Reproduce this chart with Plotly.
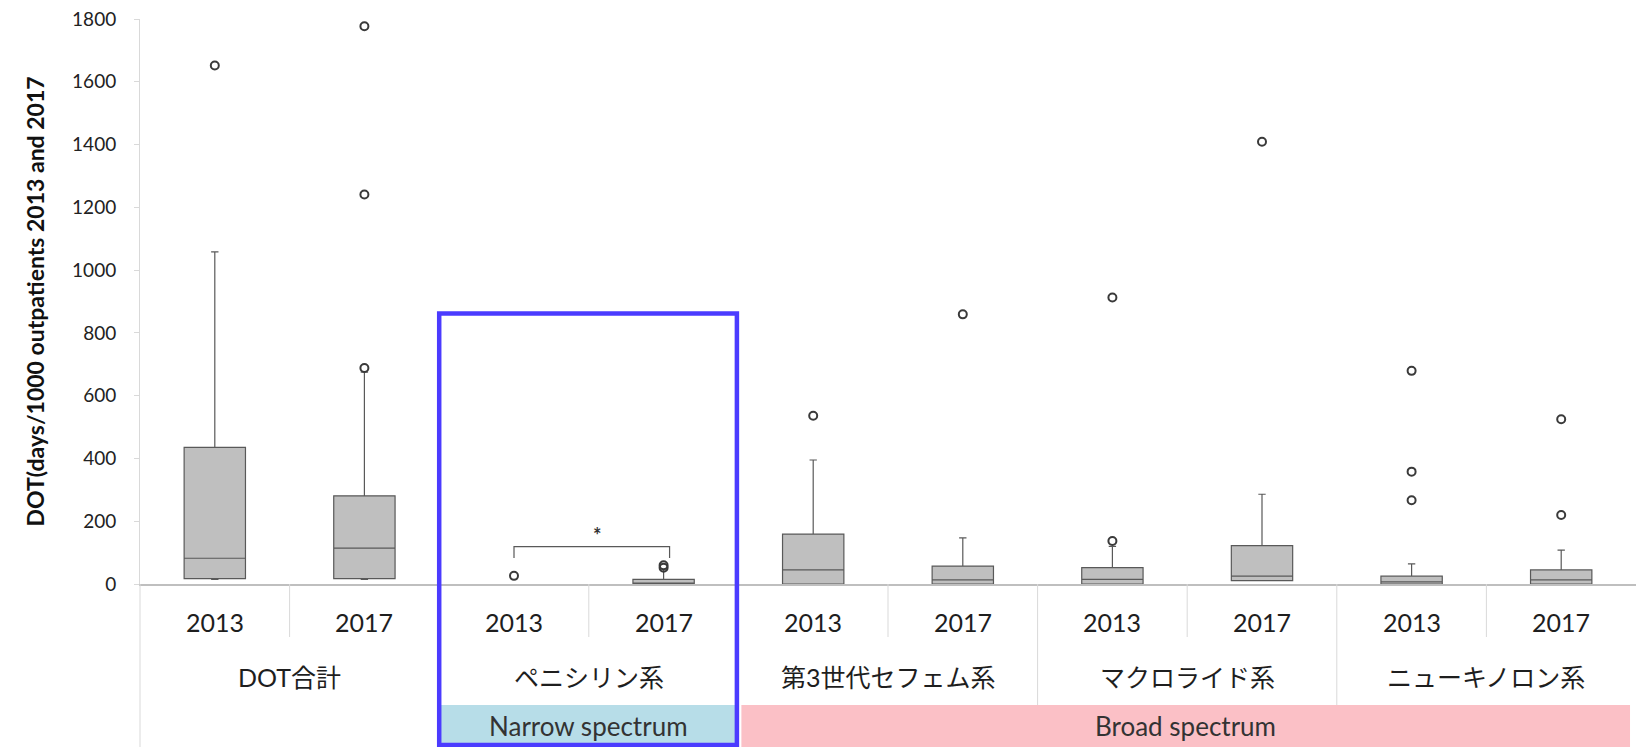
import plotly.graph_objects as go

# ---- data ----
groups = ["DOT合計", "ペニシリン系", "第3世代セフェム系", "マクロライド系", "ニューキノロン系"]
years = ["2013", "2017"]
spectrum_labels = ["Narrow spectrum", "Broad spectrum"]

# per box (10 boxes: group x year); None = no box drawn
q1 = [17, 17, None, 0, 0, 0, 0, 11, 0, 0]
median = [82, 114, None, 3, 45, 13, 15, 25, 7, 13]
q3 = [435, 281, None, 15, 159, 57, 52, 122, 25, 45]
lowerfence = [15, 15, None, 0, 0, 0, 0, 11, 0, 0]
upperfence = [1058, 675, None, 45, 395, 147, 120, 286, 64, 108]

outliers = [
    [1652],
    [688, 1241, 1777],
    [26],
    [52, 60],
    [536],
    [859],
    [137, 913],
    [1409],
    [267, 358, 679],
    [220, 525],
]

bracket_y = [83, 119, 119, 83]
star_y = 156
yticks = [0, 200, 400, 600, 800, 1000, 1200, 1400, 1600, 1800]

# ---- layout constants ----
W, H = 1636, 747
L, R, T, B = 140, 0, 19, 163
ph = H - T - B


def py(pix):
    return (H - B - pix) / ph


fig = go.Figure()

idx = [i for i in range(10) if q1[i] is not None]
fig.add_trace(go.Box(
    x=idx,
    q1=[q1[i] for i in idx],
    median=[median[i] for i in idx],
    q3=[q3[i] for i in idx],
    lowerfence=[lowerfence[i] for i in idx],
    upperfence=[upperfence[i] for i in idx],
    width=0.41,
    whiskerwidth=0.12,
    fillcolor="#bfbfbf",
    line=dict(color="#595959", width=1.2),
    boxpoints=False,
    hoverinfo="skip",
    showlegend=False,
))

ox, oy = [], []
for i, vals in enumerate(outliers):
    for v in vals:
        ox.append(i)
        oy.append(v)
fig.add_trace(go.Scatter(
    x=ox, y=oy, mode="markers",
    marker=dict(symbol="circle-open", size=8, color="#3a3a3a", line=dict(width=2)),
    cliponaxis=False, showlegend=False, hoverinfo="skip",
))

# significance bracket
fig.add_trace(go.Scatter(
    x=[2, 2, 3.04, 3.04], y=bracket_y, mode="lines",
    line=dict(color="#595959", width=1.2), showlegend=False, hoverinfo="skip",
))

shapes = []
# vertical separators
for k in range(10 - 1):
    xpos = k + 0.5
    if k % 2 == 0:
        y1 = py(637)
    else:
        y1 = py(705)
    shapes.append(dict(type="line", xref="x", yref="paper", x0=xpos, x1=xpos,
                       y0=0, y1=y1, line=dict(color="#d9d9d9", width=1)))
# y axis extension
shapes.append(dict(type="line", xref="paper", yref="paper", x0=0, x1=0,
                   y0=py(747), y1=0, line=dict(color="#d9d9d9", width=1)))
# spectrum bands
shapes.append(dict(type="rect", xref="x", yref="paper", x0=1.5, x1=3.5,
                   y0=py(747), y1=py(705), fillcolor="#b7dde8", line=dict(width=0), layer="below"))
shapes.append(dict(type="rect", xref="x", yref="paper", x0=3.52, x1=9.46,
                   y0=py(747), y1=py(705), fillcolor="#fbc0c6", line=dict(width=0), layer="below"))
# highlight rectangle
shapes.append(dict(type="rect", xref="x", yref="paper", x0=1.5, x1=3.49,
                   y0=py(745), y1=py(313.5), line=dict(color="#4b3bff", width=4.5),
                   fillcolor="rgba(0,0,0,0)"))

annotations = []
for i in range(10):
    annotations.append(dict(x=i, y=py(622), xref="x", yref="paper", text=years[i % 2],
                            showarrow=False, font=dict(family="Lato", size=25, color="#1e1e1e"),
                            xanchor="center", yanchor="middle"))
for g, name in enumerate(groups):
    annotations.append(dict(x=2 * g + 0.5, y=py(677), xref="x", yref="paper", text=name,
                            showarrow=False,
                            font=dict(family="Lato, Noto Sans CJK JP", size=25, color="#1e1e1e"),
                            xanchor="center", yanchor="middle"))
annotations.append(dict(x=2.5, y=py(726), xref="x", yref="paper", text=spectrum_labels[0],
                        showarrow=False, font=dict(family="Lato", size=26, color="#333333"),
                        xanchor="center", yanchor="middle"))
annotations.append(dict(x=6.49, y=py(726), xref="x", yref="paper", text=spectrum_labels[1],
                        showarrow=False, font=dict(family="Lato", size=26, color="#333333"),
                        xanchor="center", yanchor="middle"))
annotations.append(dict(x=2.56, y=star_y, xref="x", yref="y", text="<b>*</b>",
                        showarrow=False, font=dict(family="Lato", size=20, color="#333333"),
                        xanchor="center", yanchor="middle"))
annotations.append(dict(x=(34 - L) / (W - L - R), y=0.5, xref="paper", yref="paper",
                        text="<b>DOT(days/1000 outpatients 2013 and 2017</b>", textangle=-90,
                        showarrow=False, font=dict(family="Lato", size=23, color="#111111"),
                        xanchor="center", yanchor="middle"))

fig.update_layout(
    width=W, height=H, autosize=False,
    margin=dict(l=L, r=R, t=T, b=B),
    paper_bgcolor="white", plot_bgcolor="white",
    shapes=shapes, annotations=annotations,
    xaxis=dict(range=[-0.5, 9.5], showticklabels=False, ticks="", showgrid=False,
               zeroline=False, showline=True, linecolor="#bfbfbf", linewidth=1.5),
    yaxis=dict(range=[0, 1800], tickvals=yticks, showgrid=False, zeroline=False,
               showline=True, linecolor="#d9d9d9", linewidth=1, ticks="outside",
               ticklen=5, tickcolor="#d9d9d9", ticklabelstandoff=14,
               tickfont=dict(family="Lato", size=19, color="#222222")),
)

fig.write_html("out.html")
